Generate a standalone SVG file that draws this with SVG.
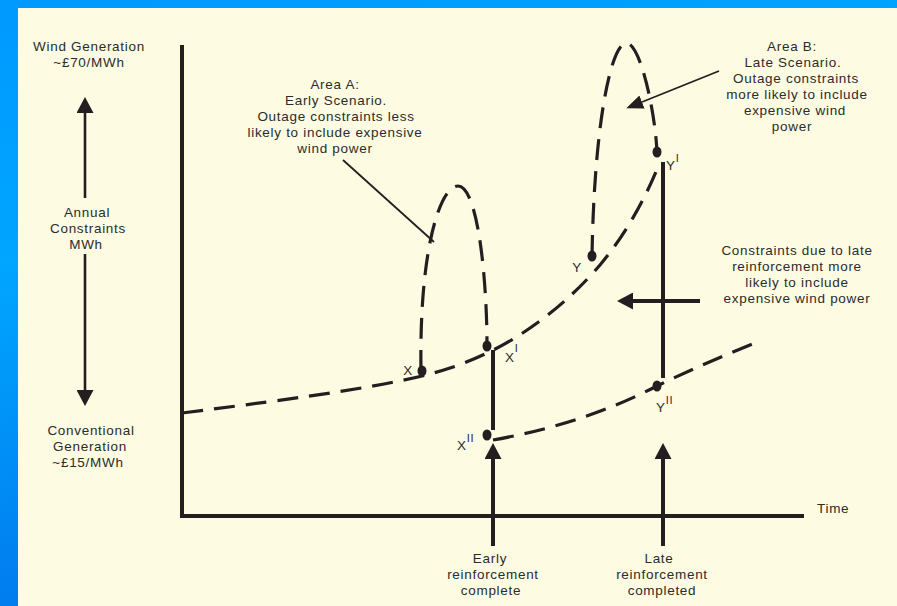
<svg xmlns="http://www.w3.org/2000/svg" width="897" height="606" viewBox="0 0 897 606">
<defs>
<linearGradient id="bg" x1="0" y1="0" x2="0.3" y2="1">
<stop offset="0" stop-color="#0099FF"/>
<stop offset="0.4" stop-color="#00A6FF"/>
<stop offset="1" stop-color="#0076EC"/>
</linearGradient>
<marker id="ah" markerUnits="userSpaceOnUse" markerWidth="16" markerHeight="17" refX="0" refY="8.5" orient="auto" viewBox="0 0 16 17">
<path d="M0,0 L16,8.5 L0,17 z" fill="#231F20"/>
</marker>
<marker id="ahs" markerUnits="userSpaceOnUse" markerWidth="17" markerHeight="14" refX="0" refY="7" orient="auto" viewBox="0 0 17 14">
<path d="M0,0 L17,7 L0,14 z" fill="#231F20"/>
</marker>
<style>
.t{font-family:"Liberation Sans",Arial,sans-serif;font-size:13.5px;letter-spacing:0.7px;fill:#2b2b2b;text-anchor:middle}
.l{font-family:"Liberation Sans",Arial,sans-serif;font-size:13.5px;letter-spacing:0.7px;fill:#2b2b2b}
.sup{font-size:11px}
.ax{stroke:#231F20;stroke-width:4;fill:none}
.sol{stroke:#231F20;stroke-width:4;fill:none}
.thin{stroke:#231F20;stroke-width:2.6;fill:none}
.lead{stroke:#231F20;stroke-width:1.8;fill:none}
.dash{stroke:#231F20;stroke-width:3.2;fill:none;stroke-dasharray:21 11}
.dot{fill:#231F20}
</style>
</defs>
<rect x="0" y="0" width="897" height="606" fill="url(#bg)"/>
<rect x="18" y="8" width="879" height="598" fill="#FDFCE2"/>

<g id="connectors">
<line class="ax" x1="182" y1="45" x2="182" y2="518"/>
<line class="ax" x1="180" y1="516" x2="804" y2="516"/>
<line class="thin" x1="85" y1="198" x2="85" y2="113" marker-end="url(#ah)"/>
<line class="thin" x1="85" y1="254" x2="85" y2="390" marker-end="url(#ah)"/>
<path class="dash" d="M182,413 C300,398 400,385 450,368 C520,345 570,300 600,265 C625,235 645,200 660,162"/>
<path class="dash" d="M493,440 C560,428 610,410 657,386 C690,370 720,357 755,343"/>
<path class="dash" d="M421,371 C419,250 440,186 458,186 C478,186 487,280 487,346"/>
<path class="dash" d="M592,256 C594,130 610,45 626,43 C640,42 655,110 657,152"/>
<line class="sol" x1="493" y1="350" x2="493" y2="430"/>
<line class="sol" x1="663" y1="162" x2="663" y2="378"/>
<line class="sol" x1="493" y1="546" x2="493" y2="459" marker-end="url(#ah)"/>
<line class="sol" x1="663" y1="546" x2="663" y2="459" marker-end="url(#ah)"/>
<line class="sol" x1="700" y1="301" x2="633" y2="301" marker-end="url(#ah)"/>
<line class="lead" x1="343" y1="160" x2="434" y2="242"/>
<line class="lead" x1="719" y1="71" x2="642" y2="102" stroke-width="2" marker-end="url(#ahs)"/>
</g>

<g id="wind-generation"><text class="t" x="89" y="51">Wind Generation</text><text class="t" x="89" y="67">~£70/MWh</text></g>
<g id="annual-constraints"><text class="t" x="87" y="217">Annual</text><text class="t" x="88" y="233">Constraints</text><text class="t" x="86" y="249">MWh</text></g>
<g id="conventional-generation"><text class="t" x="91" y="435">Conventional</text><text class="t" x="90" y="451">Generation</text><text class="t" x="88" y="467">~£15/MWh</text></g>
<g id="area-a"><text class="t" x="335" y="89">Area A:</text><text class="t" x="336" y="105">Early Scenario.</text><text class="t" x="336" y="121">Outage constraints less</text><text class="t" x="335" y="137">likely to include expensive</text><text class="t" x="335" y="153">wind power</text></g>
<g id="area-b"><text class="t" x="792" y="51">Area B:</text><text class="t" x="793" y="67">Late Scenario.</text><text class="t" x="796" y="83">Outage constraints</text><text class="t" x="797" y="99">more likely to include</text><text class="t" x="795" y="115">expensive wind</text><text class="t" x="792" y="131">power</text></g>
<g id="late-constraints"><text class="t" x="797" y="255">Constraints due to late</text><text class="t" x="797" y="271">reinforcement more</text><text class="t" x="797" y="287">likely to include</text><text class="t" x="797" y="303">expensive wind power</text></g>
<g id="time"><text class="l" x="817" y="513">Time</text></g>
<g id="early-reinforcement"><text class="t" x="490" y="563">Early</text><text class="t" x="493" y="579">reinforcement</text><text class="t" x="491" y="595">complete</text></g>
<g id="late-reinforcement"><text class="t" x="659" y="563">Late</text><text class="t" x="662" y="579">reinforcement</text><text class="t" x="662" y="595">completed</text></g>

<g id="point-x"><ellipse class="dot" cx="422" cy="371" rx="4.5" ry="5.5"/><text class="t" x="408" y="375">X</text></g>
<g id="point-x1"><ellipse class="dot" cx="487" cy="346" rx="4.5" ry="5.5"/><text class="l" x="505" y="362">X<tspan class="sup" dy="-10">I</tspan></text></g>
<g id="point-x2"><ellipse class="dot" cx="487" cy="435" rx="4.5" ry="5.5"/><text class="l" x="457" y="450">X<tspan class="sup" dy="-8">II</tspan></text></g>
<g id="point-y"><ellipse class="dot" cx="592" cy="256" rx="4.5" ry="5.5"/><text class="t" x="577" y="272">Y</text></g>
<g id="point-y1"><ellipse class="dot" cx="657" cy="152" rx="4.5" ry="5.5"/><text class="l" x="666" y="170">Y<tspan class="sup" dy="-8">I</tspan></text></g>
<g id="point-y2"><ellipse class="dot" cx="657" cy="386" rx="4.5" ry="5.5"/><text class="l" x="656" y="412">Y<tspan class="sup" dy="-8">II</tspan></text></g>
</svg>
